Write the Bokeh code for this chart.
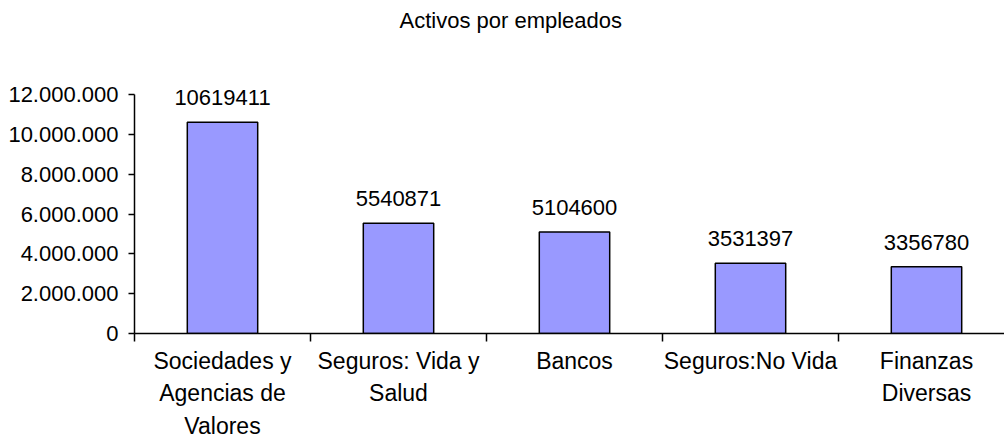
from bokeh.plotting import figure
from bokeh.models import Range1d, FixedTicker, LinearAxis, LabelSet, ColumnDataSource
from bokeh.core.properties import value
from bokeh.embed import file_html
from bokeh.resources import INLINE

title_text = "Activos por empleados"
categories = ["Sociedades y\nAgencias de\nValores", "Seguros: Vida y\nSalud", "Bancos",
              "Seguros:No Vida", "Finanzas\nDiversas"]
values = [10619411, 5540871, 5104600, 3531397, 3356780]
y_ticks = [0, 2000000, 4000000, 6000000, 8000000, 10000000, 12000000]

FONT = "Liberation Sans"
n = len(categories)
xs = [i + 0.5 for i in range(n)]

TOP, BOTTOM = 37, 333
y_end = 12000000 * (BOTTOM - TOP) / (BOTTOM - 94.3)

p = figure(width=1004, height=441, x_range=Range1d(0, 870 / 176), y_range=Range1d(0, y_end),
           output_backend="svg", toolbar_location=None, x_axis_type=None, y_axis_type=None,
           min_border_left=134, min_border_right=0, min_border_top=TOP,
           min_border_bottom=441 - BOTTOM)
p.outline_line_color = None
p.background_fill_color = "white"
p.border_fill_color = "white"

# title
p.title.text = title_text
p.title.text_font = FONT
p.title.text_font_size = "22px"
p.title.text_font_style = "normal"
p.title.text_color = "#000000"
p.title.align = "left"
p.title.offset = 265
p.title.standoff = 10

src = ColumnDataSource(dict(x=xs, top=values, label=[str(v) for v in values]))
p.vbar(x="x", top="top", width=0.4, bottom=0, source=src, fill_color="#9999FF",
       line_color="#000000", line_width=1.5)

labels = LabelSet(x="x", y="top", text="label", source=src, text_align="center",
                  text_baseline="alphabetic", y_offset=17, text_font=value(FONT),
                  text_font_size=value("22px"), text_color="#000000")
p.add_layout(labels)

# y axis
yax = LinearAxis(ticker=FixedTicker(ticks=y_ticks, minor_ticks=[]), bounds=(0, 12000000))
yax.major_label_overrides = {t: f"{t:,}".replace(",", ".") for t in y_ticks}
yax.major_label_text_font = FONT
yax.major_label_text_font_size = "22px"
yax.major_label_text_color = "#000000"
yax.major_tick_out = 6
yax.major_tick_in = 0
yax.major_label_standoff = 10
yax.axis_line_width = 1.5
yax.major_tick_line_width = 1.5
p.add_layout(yax, "left")

# x axis
xax = LinearAxis(ticker=FixedTicker(ticks=xs, minor_ticks=[0, 1, 2, 3, 4]))
xax.major_label_overrides = {x: c for x, c in zip(xs, categories)}
xax.major_label_text_font = FONT
xax.major_label_text_font_size = "23px"
xax.major_label_text_color = "#000000"
xax.major_label_text_line_height = 1.25
xax.major_tick_out = 0
xax.major_tick_in = 0
xax.minor_tick_out = 8
xax.minor_tick_in = 0
xax.minor_tick_line_width = 1.5
xax.axis_line_width = 1.5
xax.major_label_standoff = 6
p.add_layout(xax, "below")

p.ygrid.ticker = FixedTicker(ticks=y_ticks)
p.ygrid.bounds = (0, 12000000)
p.ygrid.grid_line_color = "#999999"
p.ygrid.grid_line_width = 1
p.xgrid.visible = False

open("out.html", "w").write(file_html(p, INLINE))
